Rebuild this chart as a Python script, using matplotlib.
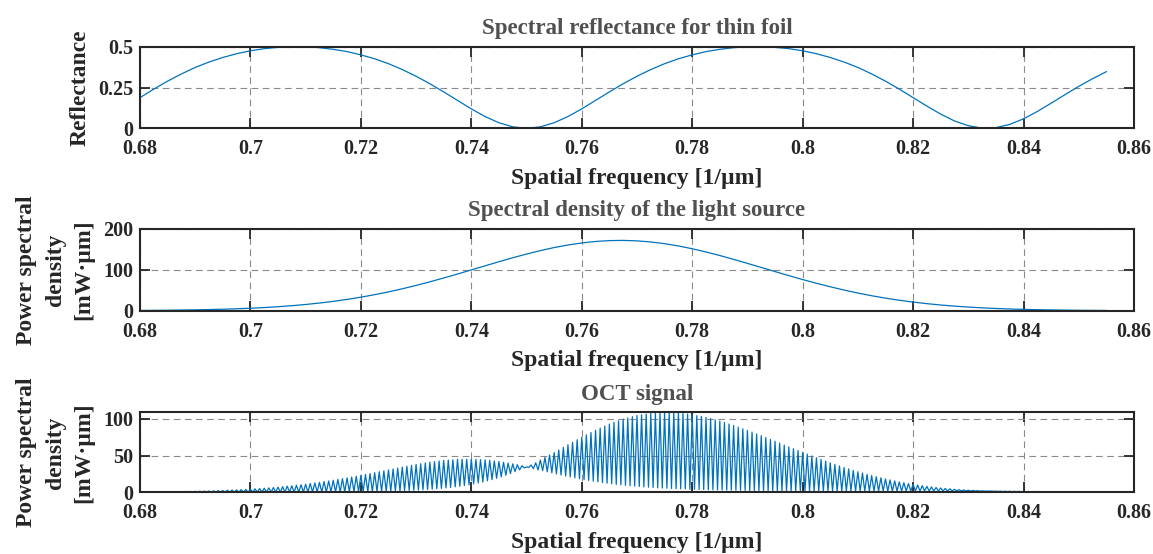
#Grafico: reflectancia de la lamina, fuente de luz y senal OCT
import matplotlib
matplotlib.use('Agg')
import matplotlib.pyplot as plt
import numpy as np

plt.rcParams['font.family'] = ['Liberation Serif', 'DejaVu Serif']
plt.rcParams['font.weight'] = 'bold'

#Valores (paso 0.0025 en frecuencia espacial, 0.68 a 0.855)
reflectance = [0.188, 0.240, 0.289, 0.333, 0.373, 0.406, 0.434, 0.457,
               0.475, 0.488, 0.496, 0.500, 0.499, 0.494, 0.484, 0.470,
               0.450, 0.426, 0.396, 0.360, 0.319, 0.273, 0.223, 0.171,
               0.119, 0.072, 0.034, 0.009, 0.000, 0.009, 0.034, 0.072,
               0.119, 0.171, 0.223, 0.273, 0.319, 0.360, 0.396, 0.426,
               0.450, 0.470, 0.484, 0.494, 0.499, 0.500, 0.496, 0.488,
               0.475, 0.457, 0.434, 0.406, 0.373, 0.333, 0.289, 0.240,
               0.188, 0.136, 0.087, 0.045, 0.016, 0.001, 0.004, 0.024,
               0.058, 0.103, 0.154, 0.206, 0.257, 0.304, 0.347]

source_psd = [0.60, 0.83, 1.13, 1.53, 2.05, 2.72, 3.57, 4.65,
              6.00, 7.68, 9.72, 12.2, 15.2, 18.7, 22.8, 27.6,
              33.0, 39.2, 46.0, 53.6, 61.8, 70.7, 80.0, 89.7,
              99.8, 109.8, 119.8, 129.5, 138.6, 147.0, 154.5, 160.8,
              165.8, 169.4, 171.5, 172.0, 170.9, 168.2, 164.0, 158.4,
              151.6, 143.7, 135.0, 125.6, 115.8, 105.8, 95.7, 85.8,
              76.2, 67.1, 58.5, 50.5, 43.2, 36.6, 30.7, 25.6,
              21.1, 17.2, 13.9, 11.15, 8.86, 6.97, 5.43, 4.19,
              3.20, 2.43, 1.82, 1.36, 1.00, 0.73, 0.53]

#Senal OCT: maximo / minimo de cada franja (0.685 a 0.85)
oct_signal = [
    0.67, 0.06, 0.76, 0.06, 0.86, 0.07,   0.95, 0.07, 1.08, 0.07, 1.20, 0.08,
    1.33, 0.08, 1.49, 0.08, 1.66, 0.09,   1.82, 0.09, 2.03, 0.09, 2.25, 0.10,
    2.46, 0.11, 2.73, 0.11, 3.00, 0.12,   3.27, 0.13, 3.61, 0.13, 3.94, 0.14,
    4.28, 0.15, 4.70, 0.16, 5.12, 0.17,   5.54, 0.18, 6.05, 0.19, 6.55, 0.21,
    7.06, 0.22, 7.67, 0.24, 8.28, 0.25,   8.89, 0.27, 9.61, 0.29, 10.3, 0.32,
    11.0, 0.34, 11.9, 0.37, 12.7, 0.40,   13.5, 0.43, 14.5, 0.47, 15.4, 0.51,
    16.4, 0.55, 17.5, 0.60, 18.5, 0.66,   19.6, 0.72, 20.7, 0.79, 21.9, 0.86,
    23.0, 0.94, 24.2, 1.04, 25.5, 1.13,   26.7, 1.25, 28.0, 1.38, 29.2, 1.51,
    30.5, 1.67, 31.8, 1.86, 33.0, 2.05,   34.3, 2.27, 35.5, 2.54, 36.7, 2.80,
    37.9, 3.1, 38.9, 3.5, 40.0, 3.8,      41.0, 4.3, 41.8, 4.8, 42.6, 5.3,
    43.4, 5.9, 43.9, 6.6, 44.3, 7.4,      44.8, 8.2, 44.9, 9.2, 45.0, 10.2,
    45.1, 11.4, 44.8, 12.7, 44.5, 14.0,   44.2, 15.6, 43.5, 17.3, 42.7, 19.0,
    42.0, 21.0, 40.9, 23.2, 39.8, 25.5,   38.7, 28.1, 37.6, 30.5, 36.1, 33.2,
    34.6, 33.9, 37.2, 32.1, 40.2, 30.4,   44.0, 29.5, 47.4, 28.0, 50.8, 26.5,
    54.1, 25.0, 57.6, 23.6, 61.2, 22.2,   64.7, 20.9, 68.1, 19.7, 71.6, 18.4,
    75.0, 17.3, 78.2, 16.2, 81.4, 15.1,   84.6, 14.2, 87.4, 13.2, 90.2, 12.3,
    93.0, 11.5, 95.2, 10.8, 97.5, 10.1,   99.7, 9.5, 101.3, 8.9, 103.0, 8.4,
    104.6, 7.9, 105.6, 7.4, 106.6, 6.9,   107.6, 6.5, 108.0, 6.1, 108.4, 5.8,
    108.8, 5.5, 108.6, 5.2, 108.3, 4.9,   108.1, 4.7, 107.3, 4.5, 106.6, 4.2,
    105.8, 4.0, 104.5, 3.8, 103.3, 3.7,   102.0, 3.5, 100.4, 3.3, 98.7, 3.2,
    97.1, 3.1, 95.1, 3.0, 93.0, 2.9,      91.0, 2.8, 88.8, 2.7, 86.5, 2.6,
    84.3, 2.5, 81.9, 2.4, 79.5, 2.3,      77.1, 2.24, 74.6, 2.18, 72.0, 2.12,
    69.5, 2.07, 67.0, 2.02, 64.4, 1.97,   61.9, 1.93, 59.4, 1.90, 56.9, 1.86,
    54.4, 1.83, 52.0, 1.80, 49.5, 1.77,   47.1, 1.75, 44.8, 1.73, 42.5, 1.71,
    40.2, 1.69, 38.1, 1.68, 35.9, 1.67,   33.8, 1.66, 31.9, 1.65, 29.9, 1.64,
    28.0, 1.64, 26.3, 1.63, 24.5, 1.63,   22.8, 1.63, 21.3, 1.63, 19.7, 1.64,
    18.2, 1.64, 16.9, 1.65, 15.5, 1.65,   14.2, 1.66, 13.1, 1.67, 11.9, 1.68,
    10.8, 1.69, 9.9, 1.70, 9.0, 1.71,     8.06, 1.71, 7.32, 1.72, 6.58, 1.73,
    5.84, 1.73, 5.26, 1.73, 4.68, 1.73,   4.10, 1.73, 3.67, 1.72, 3.23, 1.71,
    2.80, 1.69, 2.48, 1.67, 2.17, 1.65,   1.85, 1.60, 1.62, 1.55, 1.61, 1.35,
    1.53, 1.12, 1.49, 0.97, 1.44, 0.83,   1.40, 0.70, 1.34, 0.60, 1.29, 0.51,
    1.23, 0.43, 1.17, 0.37, 1.12, 0.31,   1.06, 0.26, 1.00, 0.22, 0.94, 0.19,
    0.88, 0.16, 0.83, 0.13, 0.77, 0.11,   0.72, 0.09, 0.67, 0.08, 0.62, 0.07,
    0.57]

k_curves = np.linspace(0.68, 0.855, len(reflectance))
k_oct = np.linspace(0.685, 0.85, len(oct_signal))

xticks = [0.68, 0.7, 0.72, 0.74, 0.76, 0.78, 0.8, 0.82, 0.84, 0.86]
xticklabels = ['0.68', '0.7', '0.72', '0.74', '0.76', '0.78', '0.8', '0.82', '0.84', '0.86']

titles = ['Spectral reflectance for thin foil', 'Spectral density of the light source', 'OCT signal']
ylabels = ['Reflectance', 'Power spectral\ndensity\n[mW·µm]', 'Power spectral\ndensity\n[mW·µm]']
xlabel = 'Spatial frequency [1/µm]'

dark = '#262626'
blue = '#0072BD'

fig = plt.figure(figsize=(11.53, 5.54), dpi=100)
ax1 = fig.add_axes([0.1214, 0.7684, 0.8621, 0.1473])
ax2 = fig.add_axes([0.1214, 0.4392, 0.8621, 0.1475])
ax3 = fig.add_axes([0.1214, 0.1114, 0.8621, 0.1444])

ax1.plot(k_curves, reflectance, color=blue, linewidth=0.9)
ax2.plot(k_curves, source_psd, color=blue, linewidth=0.9)
ax3.plot(k_oct, oct_signal, color=blue, linewidth=0.9)

ax1.set_ylim(0, 0.5)
ax1.set_yticks([0, 0.25, 0.5])
ax1.set_yticklabels(['0', '0.25', '0.5'])
ax2.set_ylim(0, 200)
ax2.set_yticks([0, 100, 200])
ax3.set_ylim(0, 109)
ax3.set_yticks([0, 50, 100])

for i, ax in enumerate([ax1, ax2, ax3]):
    ax.set_xlim(0.68, 0.86)
    ax.set_xticks(xticks)
    ax.set_xticklabels(xticklabels)
    ax.grid(True, color='#8a8a8a', linestyle=(0, (6, 4)), linewidth=0.8)
    ax.set_axisbelow(True)
    ax.tick_params(direction='in', length=7.5, width=1.3, top=True, right=True,
                   colors=dark, labelsize=14.5, pad=5)
    ax.tick_params(axis='x', pad=8)
    for s in ax.spines.values():
        s.set_linewidth(1.5)
        s.set_color(dark)
    ax.set_title(titles[i], fontsize=16.5, color='#505050', fontweight='bold', pad=9)
    ax.set_xlabel(xlabel, fontsize=17, color=dark, fontweight='bold', labelpad=6)
    ax.set_ylabel(ylabels[i], fontsize=17, color=dark, fontweight='bold', linespacing=1.45)
    if i == 0:
        ax.yaxis.set_label_coords(-0.050, 0.5)
    else:
        ax.yaxis.set_label_coords(-0.0465, 0.5)

fig.savefig('out.png', dpi=100)
